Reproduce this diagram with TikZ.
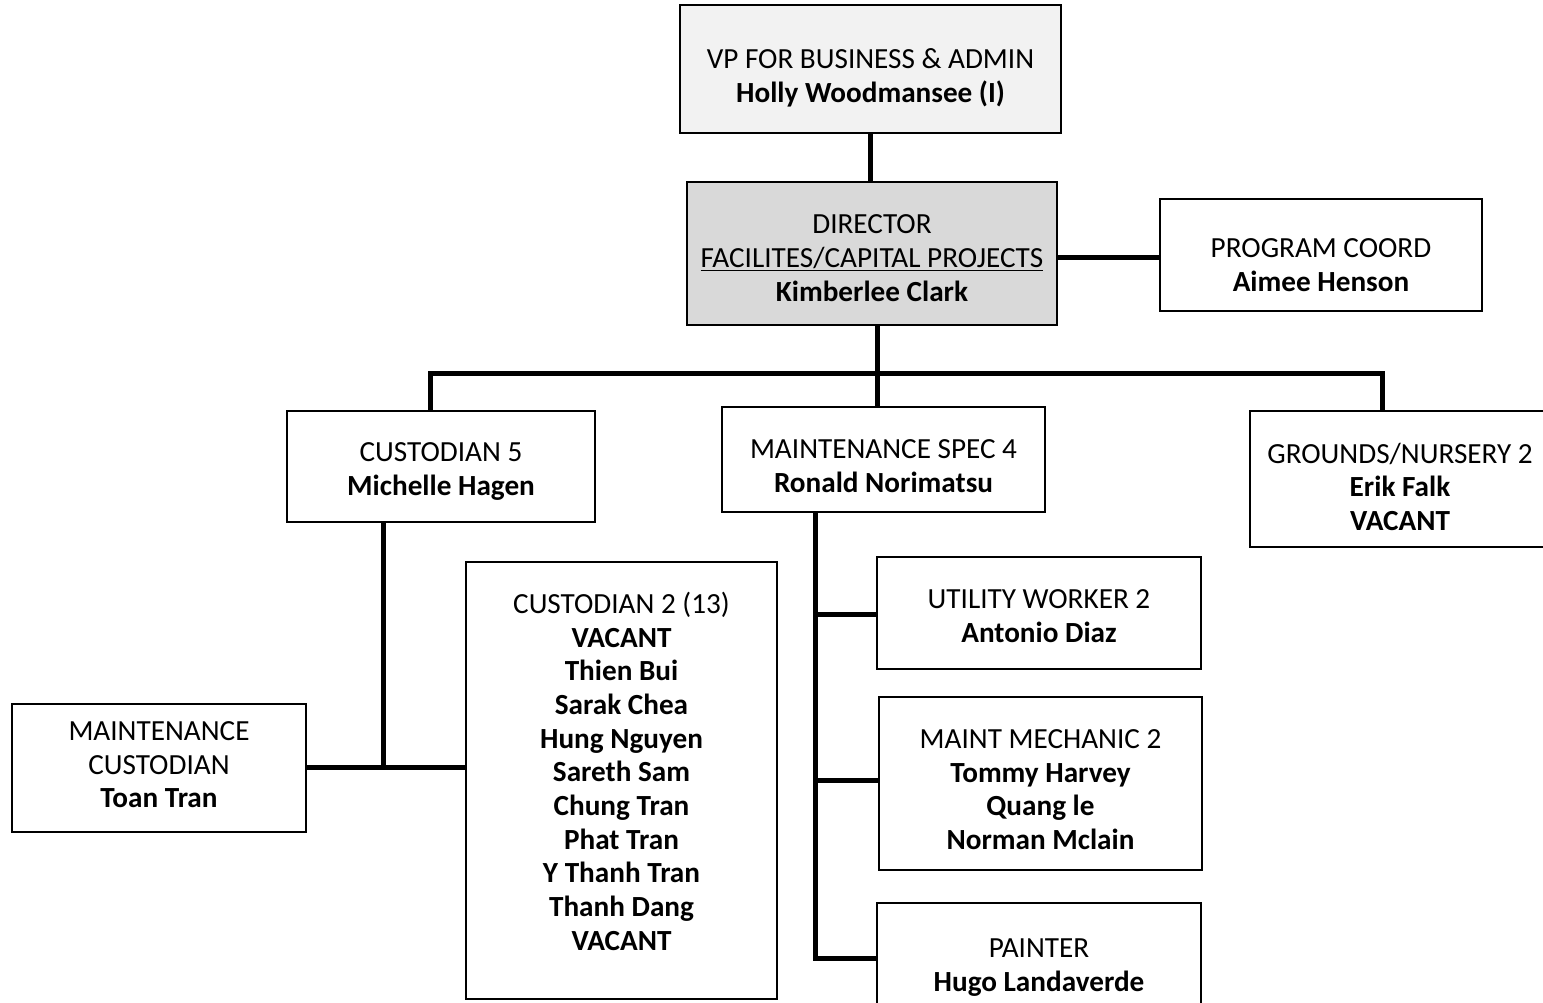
\documentclass[tikz,border=0pt]{standalone}
\usepackage{fontspec}
\setmainfont{Carlito}
\definecolor{vpfill}{HTML}{F2F2F2}
\definecolor{dirfill}{HTML}{D9D9D9}
\begin{document}
\begin{tikzpicture}[x=1pt,y=-1pt,
  box/.style={draw=black, line width=1.8pt, fill=white, inner sep=0pt, rectangle},
  conn/.style={draw=black, line width=5pt, line join=miter},
  txt/.style={align=center, inner sep=0pt, font=\fontsize{29.2}{33.7}\selectfont}]
\fill[white] (0,0) rectangle (1543,1003);
\useasboundingbox (0,0) rectangle (1543,1003);

% boxes
\node[box, fill=vpfill, minimum width=381pt, minimum height=128pt] (vp) at (870.5,69) {};
\node[box, fill=dirfill, minimum width=370pt, minimum height=143pt] (dir) at (872,253.5) {};
\node[box, minimum width=322pt, minimum height=112pt] (pc) at (1321,255) {};
\node[box, minimum width=308pt, minimum height=111pt] (c5) at (441,466.5) {};
\node[box, minimum width=323pt, minimum height=105pt] (ms) at (883.5,459.5) {};
\node[box, minimum width=300pt, minimum height=136pt] (gr) at (1400,479) {};
\node[box, minimum width=294pt, minimum height=128pt] (mc) at (159,768) {};
\node[box, minimum width=311pt, minimum height=437pt] (c2) at (621.5,780.5) {};
\node[box, minimum width=324pt, minimum height=112pt] (ut) at (1039,613) {};
\node[box, minimum width=323pt, minimum height=173pt] (mm) at (1040.5,783.5) {};
\node[box, minimum width=324pt, minimum height=107pt] (pt) at (1039,956.5) {};

% connectors
\coordinate (a) at (870,0);
\draw[conn] (vp.south -| a) -- (dir.north -| a);
\coordinate (b) at (877,373);
\draw[conn] (dir.south -| b) -- (ms.north -| b);
\coordinate (bl) at (430.5,373);
\coordinate (br) at (1382,373);
\draw[conn] (c5.north -| bl) -- (bl) -- (br) -- (gr.north -| br);
\coordinate (c) at (0,257.5);
\draw[conn] (dir.east |- c) -- (pc.west |- c);
\coordinate (d) at (383,767);
\draw[conn] (c5.south -| d) -- (d);
\draw[conn] (mc.east |- d) -- (c2.west |- d);
\coordinate (e1) at (815.5,614);
\coordinate (e2) at (815.5,780.5);
\coordinate (e3) at (815.5,958);
\draw[conn] (ms.south -| e3) -- (e3) -- (pt.west |- e3);
\draw[conn] (e1) -- (ut.west |- e1);
\draw[conn] (e2) -- (mm.west |- e2);

% texts
\node[txt] (vpt) at (870.5,79.1) {\strut VP FOR BUSINESS \& ADMIN\\\textbf{Holly Woodmansee (I)}\strut};
\node[txt] (dirt) at (872,260.8) {\strut DIRECTOR\\\underline{FACILITES/CAPITAL PROJECTS}\\\textbf{Kimberlee Clark}\strut};
\node[txt] (pct) at (1321,268) {\strut PROGRAM COORD\\\textbf{Aimee Henson}\strut};
\node[txt] (c5t) at (441,471.6) {\strut CUSTODIAN 5\\\textbf{Michelle Hagen}\strut};
\node[txt] (mst) at (883.5,468.6) {\strut MAINTENANCE SPEC 4\\\textbf{Ronald Norimatsu}\strut};
\node[txt] (grt) at (1400,490) {\strut GROUNDS/NURSERY 2\\\textbf{Erik Falk}\\\textbf{VACANT}\strut};
\node[txt] (mct) at (159,767.3) {\strut MAINTENANCE\\CUSTODIAN\\\textbf{Toan Tran}\strut};
\node[txt] (c2t) at (621.5,775.1) {\strut CUSTODIAN 2 (13)\\\textbf{VACANT}\\\textbf{Thien Bui}\\\textbf{Sarak Chea}\\\textbf{Hung Nguyen}\\\textbf{Sareth Sam}\\\textbf{Chung Tran}\\\textbf{Phat Tran}\\\textbf{Y Thanh Tran}\\\textbf{Thanh Dang}\\\textbf{VACANT}\strut};
\node[txt] (utt) at (1039,618.6) {\strut UTILITY WORKER 2\\\textbf{Antonio Diaz}\strut};
\node[txt] (mmt) at (1040.5,792.3) {\strut MAINT MECHANIC 2\\\textbf{Tommy Harvey}\\\textbf{Quang le}\\\textbf{Norman Mclain}\strut};
\node[txt] (ptt) at (1039,967.9) {\strut PAINTER\\\textbf{Hugo Landaverde}\strut};
\end{tikzpicture}
\end{document}
